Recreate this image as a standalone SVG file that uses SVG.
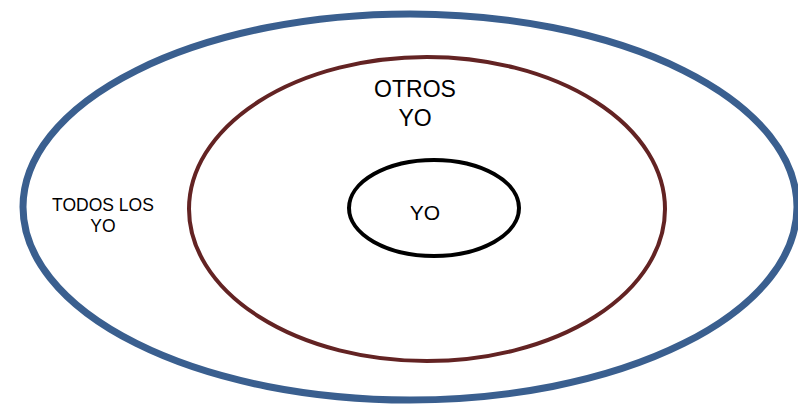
<svg xmlns="http://www.w3.org/2000/svg" width="798" height="406" viewBox="0 0 798 406">
<style>
  text { font-family: "Liberation Sans", Arial, sans-serif; fill: #000; text-anchor: middle; }
  .ring { fill: none; }
</style>
<rect width="798" height="406" fill="#fff"/>
<g id="todos">
  <ellipse class="ring" cx="410" cy="207" rx="387" ry="193" stroke="#3a5f8f" stroke-width="7"/>
  <text x="103" y="211" font-size="17.5">TODOS LOS</text>
  <text x="103" y="232" font-size="17.5">YO</text>
</g>
<g id="otros">
  <ellipse class="ring" cx="427" cy="209" rx="238" ry="152" stroke="#632323" stroke-width="4"/>
  <text x="415" y="97" font-size="23">OTROS</text>
  <text x="415" y="126" font-size="23">YO</text>
</g>
<g id="yo">
  <ellipse class="ring" cx="434" cy="208" rx="85" ry="48" stroke="#000" stroke-width="4"/>
  <text x="425" y="220" font-size="21">YO</text>
</g>
<g id="connectors"></g>
</svg>
